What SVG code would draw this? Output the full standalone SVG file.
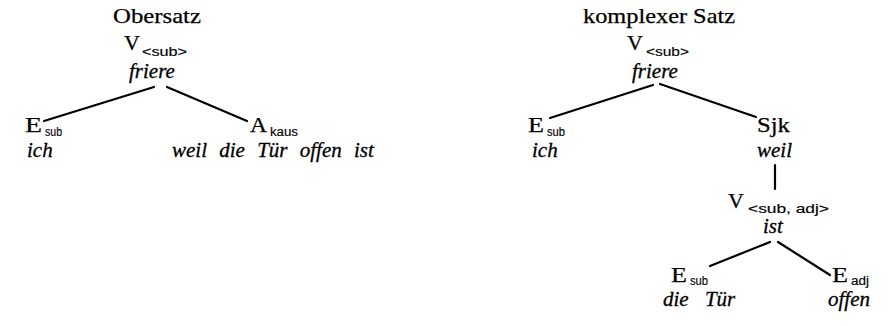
<svg xmlns="http://www.w3.org/2000/svg" width="888" height="326" viewBox="0 0 888 326">
  <style>
    .title { font-family: "Liberation Serif", "DejaVu Serif", serif; font-size: 21px; fill: #000; stroke: #000; stroke-width: 0.25; }
    .cat { font-family: "Liberation Serif", "DejaVu Serif", serif; font-size: 22px; fill: #000; stroke: #000; stroke-width: 0.25; }
    .sub { font-family: "Liberation Sans", "DejaVu Sans", sans-serif; font-size: 12px; fill: #000; stroke: #000; stroke-width: 0.15; }
    .word { font-family: "Liberation Serif", "DejaVu Serif", serif; font-style: italic; font-size: 21px; fill: #000; stroke: #000; stroke-width: 0.3; }
    .edge { stroke: #000; stroke-width: 2.2; stroke-linecap: round; fill: none; }
  </style>
  <rect width="888" height="326" fill="#fff"/>

  <!-- left tree: main clause -->
  <g id="title-obersatz">
    <text class="title" x="113" y="23" textLength="88" lengthAdjust="spacingAndGlyphs">Obersatz</text>
  </g>
  <g id="l-verb">
    <text class="cat" x="124" y="50">V</text>
    <text class="sub" x="142" y="56" textLength="45" lengthAdjust="spacingAndGlyphs">&lt;sub&gt;</text>
    <text class="word" x="129" y="78">friere</text>
  </g>
  <g id="l-esub">
    <text class="cat" x="25" y="132" textLength="17" lengthAdjust="spacingAndGlyphs">E</text>
    <text class="sub" x="45" y="136" textLength="17" lengthAdjust="spacingAndGlyphs">sub</text>
    <text class="word" x="27" y="157">ich</text>
  </g>
  <g id="l-akaus">
    <text class="cat" x="250" y="132" textLength="17" lengthAdjust="spacingAndGlyphs">A</text>
    <text class="sub" x="270" y="136" textLength="28" lengthAdjust="spacingAndGlyphs">kaus</text>
    <text class="word" x="172" y="157" word-spacing="7">weil die Tür offen ist</text>
  </g>

  <!-- right tree: complex sentence -->
  <g id="title-komplex">
    <text class="title" x="583" y="23" textLength="152" lengthAdjust="spacingAndGlyphs">komplexer Satz</text>
  </g>
  <g id="r-verb">
    <text class="cat" x="627" y="50">V</text>
    <text class="sub" x="646" y="56" textLength="43" lengthAdjust="spacingAndGlyphs">&lt;sub&gt;</text>
    <text class="word" x="632" y="78">friere</text>
  </g>
  <g id="r-esub">
    <text class="cat" x="528" y="132" textLength="16" lengthAdjust="spacingAndGlyphs">E</text>
    <text class="sub" x="547" y="136" textLength="18" lengthAdjust="spacingAndGlyphs">sub</text>
    <text class="word" x="532" y="157">ich</text>
  </g>
  <g id="r-sjk">
    <text class="cat" x="757" y="132" textLength="33" lengthAdjust="spacingAndGlyphs">Sjk</text>
    <text class="word" x="757" y="157">weil</text>
  </g>
  <g id="r-verb2">
    <text class="cat" x="728" y="208">V</text>
    <text class="sub" x="748" y="213" textLength="81" lengthAdjust="spacingAndGlyphs">&lt;sub, adj&gt;</text>
    <text class="word" x="763" y="233">ist</text>
  </g>
  <g id="r-esub2">
    <text class="cat" x="671" y="282" textLength="16" lengthAdjust="spacingAndGlyphs">E</text>
    <text class="sub" x="690" y="285" textLength="18" lengthAdjust="spacingAndGlyphs">sub</text>
    <text class="word" x="663" y="306" word-spacing="11">die Tür</text>
  </g>
  <g id="r-eadj">
    <text class="cat" x="832" y="282" textLength="16" lengthAdjust="spacingAndGlyphs">E</text>
    <text class="sub" x="851" y="285" textLength="18" lengthAdjust="spacingAndGlyphs">adj</text>
    <text class="word" x="828" y="306">offen</text>
  </g>

  <!-- connectors -->
  <g id="connectors">
    <line class="edge" x1="154" y1="87" x2="44" y2="121"/>
    <line class="edge" x1="167" y1="87" x2="247" y2="121"/>
    <line class="edge" x1="653" y1="85" x2="550" y2="118"/>
    <line class="edge" x1="660" y1="84" x2="756" y2="117"/>
    <line class="edge" x1="775" y1="165" x2="775" y2="189"/>
    <line class="edge" x1="770" y1="242" x2="710" y2="266"/>
    <line class="edge" x1="778" y1="242" x2="830" y2="275"/>
  </g>
</svg>
